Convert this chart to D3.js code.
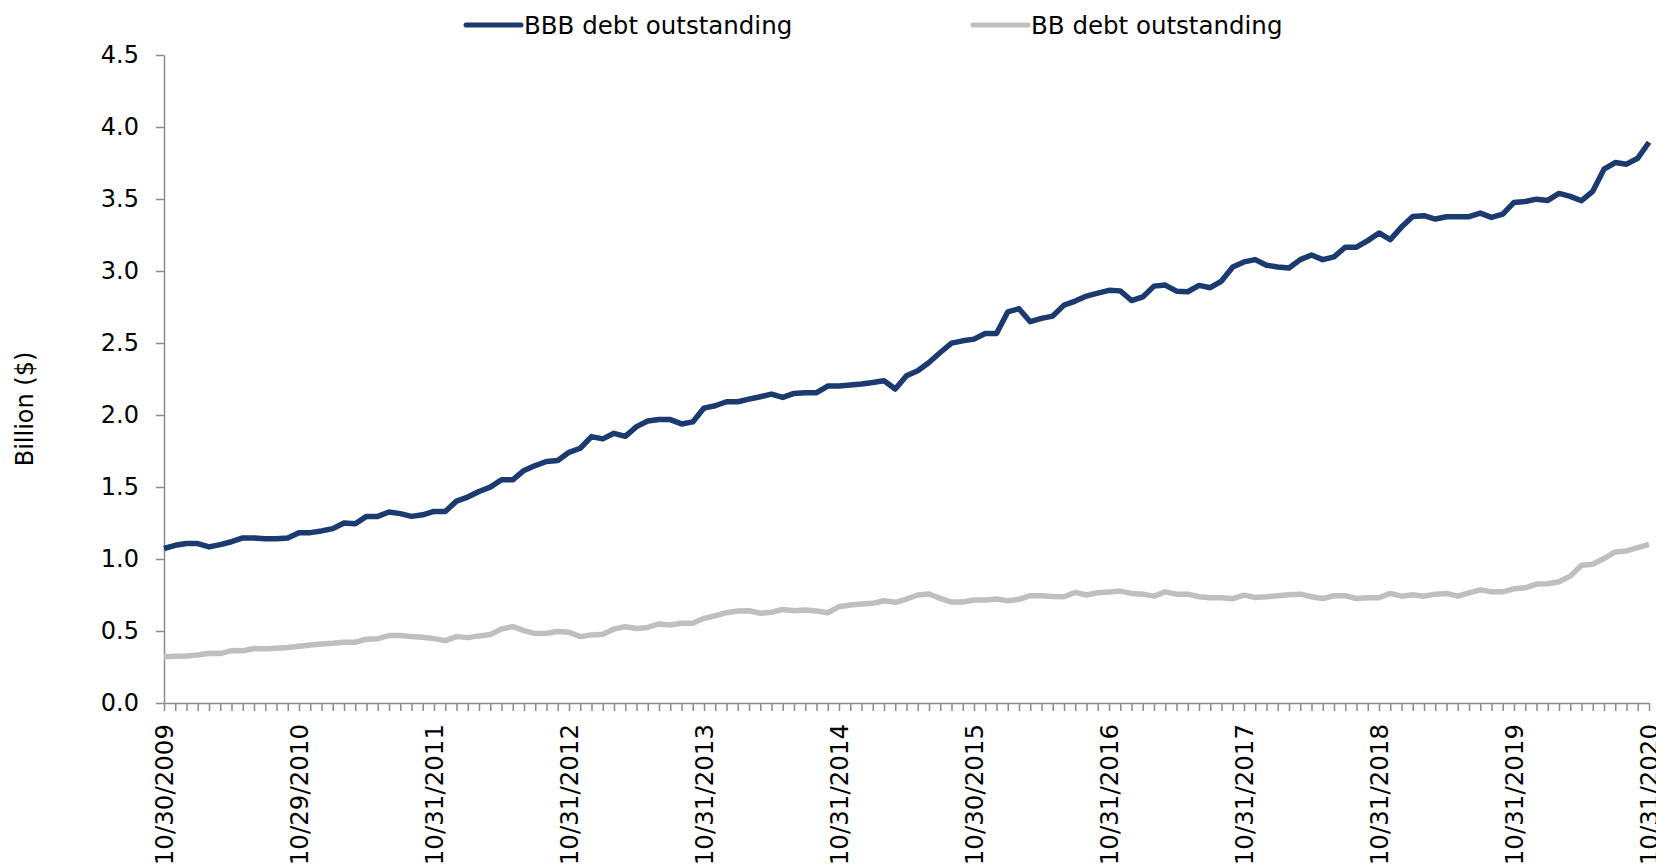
<!DOCTYPE html>
<html>
<head>
<meta charset="utf-8">
<script src="https://cdn.jsdelivr.net/npm/d3@7"></script>
<style>
  body { margin: 0; background: #fff; }
  text { font-family: "DejaVu Sans", sans-serif; fill: #000; }
</style>
</head>
<body>
<script>
// month-end dates, Oct 2009 .. Oct 2020 (labels shown once a year)
let tickLabels = ["10/30/2009", "10/29/2010", "10/31/2011", "10/31/2012", "10/31/2013", "10/31/2014",
                  "10/30/2015", "10/31/2016", "10/31/2017", "10/31/2018", "10/31/2019", "10/31/2020"];
let seriesNames = ["BBB debt outstanding", "BB debt outstanding"];

let bbb = [1.073, 1.095, 1.107, 1.107, 1.084, 1.100, 1.120, 1.146, 1.146, 1.140, 1.140, 1.146,
           1.183, 1.183, 1.195, 1.211, 1.250, 1.245, 1.296, 1.296, 1.326, 1.315, 1.296, 1.307,
           1.330, 1.330, 1.402, 1.430, 1.469, 1.499, 1.550, 1.550, 1.615, 1.649, 1.677, 1.684,
           1.741, 1.769, 1.850, 1.834, 1.873, 1.852, 1.919, 1.958, 1.969, 1.968, 1.938, 1.952,
           2.048, 2.064, 2.092, 2.092, 2.110, 2.127, 2.145, 2.122, 2.150, 2.155, 2.155, 2.201,
           2.201, 2.208, 2.215, 2.226, 2.238, 2.180, 2.273, 2.307, 2.365, 2.434, 2.499, 2.515,
           2.527, 2.566, 2.566, 2.716, 2.738, 2.648, 2.671, 2.687, 2.763, 2.791, 2.826, 2.846,
           2.866, 2.862, 2.795, 2.820, 2.895, 2.902, 2.860, 2.856, 2.900, 2.884, 2.930, 3.028,
           3.063, 3.079, 3.040, 3.028, 3.021, 3.079, 3.111, 3.079, 3.098, 3.165, 3.165, 3.211,
           3.264, 3.218, 3.305, 3.379, 3.384, 3.361, 3.377, 3.377, 3.377, 3.402, 3.372, 3.395,
           3.476, 3.483, 3.499, 3.490, 3.539, 3.518, 3.488, 3.553, 3.707, 3.753, 3.742, 3.783,
           3.894];

let bb = [0.322, 0.325, 0.327, 0.334, 0.345, 0.343, 0.364, 0.362, 0.378, 0.376, 0.380, 0.385,
          0.394, 0.403, 0.410, 0.415, 0.422, 0.422, 0.443, 0.447, 0.468, 0.468, 0.461, 0.456,
          0.447, 0.433, 0.461, 0.454, 0.466, 0.475, 0.514, 0.530, 0.503, 0.482, 0.484, 0.496,
          0.491, 0.461, 0.473, 0.477, 0.514, 0.530, 0.517, 0.525, 0.549, 0.542, 0.554, 0.554,
          0.588, 0.606, 0.627, 0.639, 0.641, 0.623, 0.630, 0.650, 0.641, 0.646, 0.639, 0.627,
          0.669, 0.680, 0.687, 0.692, 0.710, 0.699, 0.722, 0.750, 0.757, 0.727, 0.701, 0.701,
          0.715, 0.715, 0.722, 0.710, 0.719, 0.745, 0.745, 0.740, 0.738, 0.768, 0.750, 0.766,
          0.770, 0.777, 0.761, 0.756, 0.742, 0.772, 0.756, 0.756, 0.738, 0.731, 0.731, 0.724,
          0.749, 0.733, 0.738, 0.745, 0.752, 0.756, 0.738, 0.726, 0.745, 0.745, 0.726, 0.731,
          0.731, 0.761, 0.742, 0.752, 0.742, 0.756, 0.761, 0.742, 0.765, 0.786, 0.772, 0.772,
          0.793, 0.800, 0.826, 0.828, 0.842, 0.881, 0.957, 0.964, 1.003, 1.049, 1.056, 1.079,
          1.102];

let yTicks = [0, 0.5, 1, 1.5, 2, 2.5, 3, 3.5, 4, 4.5];
let colors = ["#1b3b70", "#bfbfbf"];

let size = {width: 1656, height: 867};
let margin = {top: 55, right: 7, bottom: 164, left: 164};

let svg = d3.select("body").append("svg")
    .attr("width", size.width).attr("height", size.height);

let x = d3.scalePoint()
    .domain(d3.range(bbb.length))
    .range([margin.left, size.width - margin.right]);
let y = d3.scaleLinear()
    .domain([0, 4.5])
    .range([size.height - margin.bottom, margin.top]);

// y axis
let yAxis = svg.append("g")
    .attr("transform", `translate(${margin.left},0)`)
    .call(d3.axisLeft(y).tickValues(yTicks).tickFormat(d3.format(".1f")).tickSizeInner(8).tickSizeOuter(0).tickPadding(17));
yAxis.selectAll("path, line").attr("stroke", "#8c8c8c").attr("stroke-width", 1.5);
yAxis.selectAll("text").style("font-size", "24px").attr("fill", "#000");

// x axis: a tick every month, a label once a year
let xAxis = svg.append("g")
    .attr("transform", `translate(0,${y(0)})`)
    .call(d3.axisBottom(x)
        .tickSizeInner(8).tickSizeOuter(0)
        .tickFormat(i => i % 12 === 0 ? tickLabels[i / 12] : ""));
xAxis.selectAll("path, line").attr("stroke", "#8c8c8c").attr("stroke-width", 1.5);
xAxis.selectAll("text")
    .style("font-size", "24.5px").attr("fill", "#000")
    .attr("text-anchor", "end")
    .attr("transform", "rotate(-90)")
    .attr("x", -21).attr("y", 0).attr("dy", "0.36em");

// y title
svg.append("text")
    .attr("transform", `translate(33,${(y(0) + y(4.5)) / 2 + 30}) rotate(-90)`)
    .attr("text-anchor", "middle")
    .style("font-size", "24px")
    .text("Billion ($)");

// series
let line = d3.line().x((d, i) => x(i)).y(d => y(d));
[bb, bbb].forEach(data => {
    let k = data === bbb ? 0 : 1;
    svg.append("path")
        .datum(data)
        .attr("fill", "none")
        .attr("stroke", colors[k])
        .attr("stroke-width", 5.5)
        .attr("stroke-linejoin", "round")
        .attr("d", line);
});

// legend
let legendX = [466, 973];
seriesNames.forEach((name, k) => {
    let g = svg.append("g").attr("transform", `translate(${legendX[k]},25)`);
    g.append("line")
        .attr("x1", 0).attr("x2", 55)
        .attr("stroke", colors[k]).attr("stroke-width", 5).attr("stroke-linecap", "round");
    g.append("text")
        .attr("x", 58).attr("dy", "0.35em")
        .style("font-size", "24.5px")
        .text(name);
});
</script>
</body>
</html>
